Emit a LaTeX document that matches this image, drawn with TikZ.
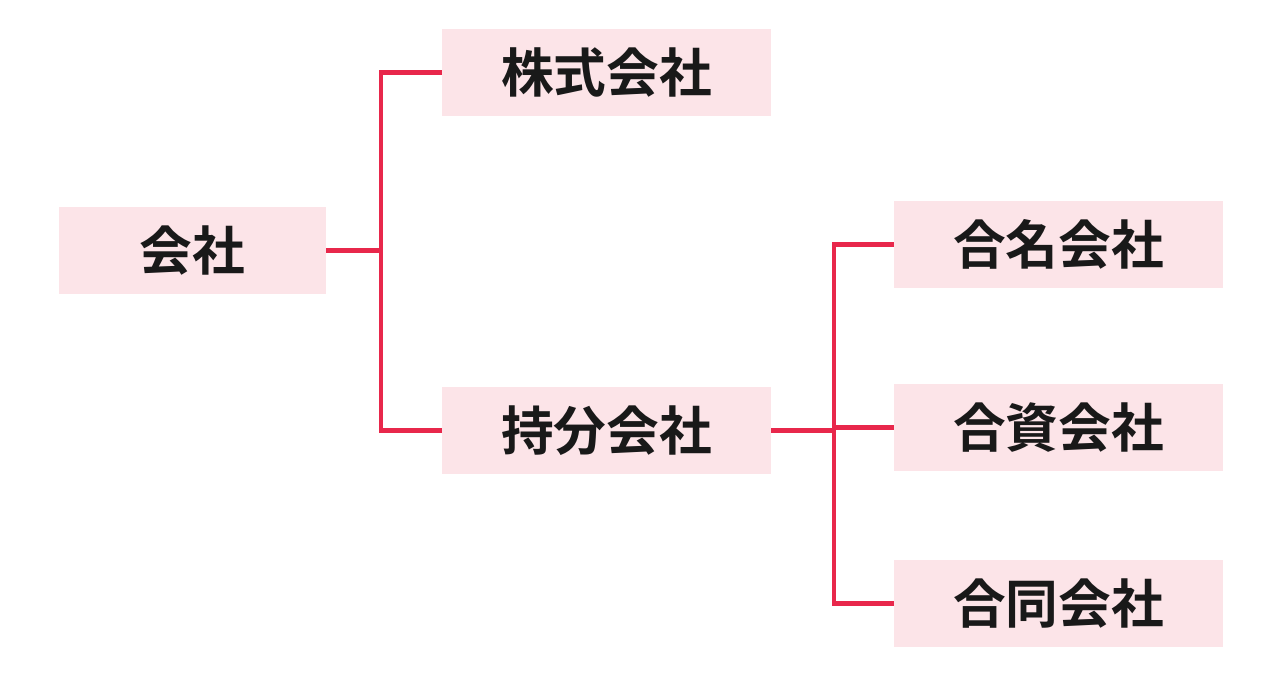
\documentclass[tikz,border=0pt]{standalone}
\usepackage{fontspec}
\newfontfamily\cjk{Noto Sans CJK JP Bold}
\definecolor{linkred}{HTML}{E8274B}
\definecolor{boxpink}{HTML}{FCE4E8}
\begin{document}
\begin{tikzpicture}[x=0.02cm,y=-0.02cm]
  \useasboundingbox (0,0) rectangle (1286,684);

  \tikzstyle{box}=[fill=boxpink, minimum height=1.74cm, inner sep=0pt,
    font=\cjk\fontsize{30}{30}\selectfont, text=black!90]
  \tikzstyle{link}=[draw=linkred, line width=2.8pt]

  % Knoten
  \node[box, minimum width=5.34cm] (kaisha) at (192.5,250.5) {会社};
  \node[box, minimum width=6.58cm] (kabu) at (606.5,72.5) {株式会社};
  \node[box, minimum width=6.58cm] (mochi) at (606.5,430.5) {持分会社};
  \node[box, minimum width=6.58cm] (gomei) at (1058.5,244.5) {合名会社};
  \node[box, minimum width=6.58cm] (goshi) at (1058.5,427.5) {合資会社};
  \node[box, minimum width=6.58cm] (godo) at (1058.5,603.5) {合同会社};

  % Verbindungen
  \coordinate (j1) at (381,250.5);
  \coordinate (j2) at (834,430.5);
  \path[link] (kaisha.east) -- (j1);
  \path[link] (j1) |- (kabu.west);
  \path[link] (j1) |- (mochi.west);
  \path[link] (mochi.east) -- (j2);
  \path[link] (j2) |- (gomei.west);
  \path[link] (j2) |- (goshi.west);
  \path[link] (j2) |- (godo.west);
\end{tikzpicture}
\end{document}
